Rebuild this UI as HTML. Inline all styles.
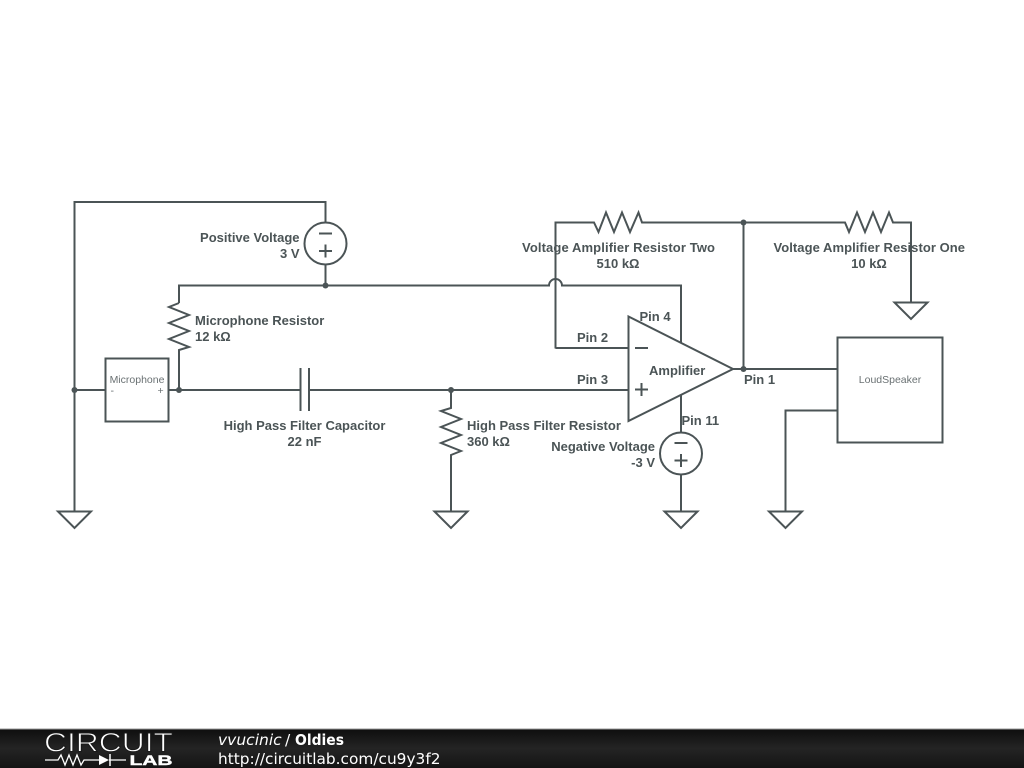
<!DOCTYPE html>
<html><head><meta charset="utf-8"><style>
html,body{margin:0;padding:0;background:#fff;width:1024px;height:768px;overflow:hidden}
svg{display:block}
.w{fill:none;stroke:#4b5456;stroke-width:2;stroke-linejoin:miter}
.t{font-family:"Liberation Sans",sans-serif;font-weight:bold;font-size:13px;fill:#4b5456}
.m{text-anchor:middle}.e{text-anchor:end}
.s{font-family:"Liberation Sans",sans-serif;font-size:10.5px;fill:#6a7173}
.f{font-family:"DejaVu Sans",sans-serif;font-size:15.5px;fill:#fff}
</style></head><body>
<svg width="1024" height="768" viewBox="0 0 1024 768" xmlns="http://www.w3.org/2000/svg">
<defs><linearGradient id="g" x1="0" y1="0" x2="0" y2="1"><stop offset="0" stop-color="#0e0e0e"/><stop offset=".5" stop-color="#242424"/><stop offset="1" stop-color="#141414"/></linearGradient></defs>
<rect width="1024" height="768" fill="#fff"/>
<g class="w">
<path d="M74.5 511V202H325.5V222"/>
<circle cx="325.5" cy="243.5" r="21"/>
<path d="M319 233.5H332M319 251H332M325.5 244.5V257.5"/>
<path d="M325.5 265V285"/>
<path d="M179 303V285.5H549A6.5 6.5 0 0 1 562 285.5H681V343"/>
<path d="M179 303L169 307L189 315L169 323L189 331L169 339L189 347L179 350V390"/>
<path d="M74.5 390H105.5"/>
<rect x="105.5" y="358.5" width="63" height="63"/>
<path d="M168.5 390H300M309 390H628"/>
<path d="M300.5 368V411M309 368V411"/>
<path d="M451 390V408L441 411L461 419L441 427L461 435L441 443L461 451L451 455V511"/>
<path d="M555.5 348.5V222.5H594L598.500 232L606 212.500L614 232L622 212.500L630 232L638.500 212.500L642 222.500H845L849 232L857 212.500L865 232L873 212.500L881 232L889 212.500L893 222.500H911V302"/>
<path d="M555.5 348H628"/>
<path d="M628.5 316.5L733 369L628.5 421Z"/>
<path d="M635 348H648M635 389.5H648M641.5 383V396"/>
<path d="M743.5 222.5V369M733 369H837"/>
<rect x="837.5" y="337.5" width="105" height="105"/>
<path d="M837 410.5H785.5V511"/>
<path d="M681 395V432"/>
<circle cx="681" cy="453.5" r="21"/>
<path d="M674.500 443H687.500M674.500 460.500H687.500M681 454V467"/>
<path d="M681 475V511"/>
<path d="M58 511.500H91L74.500 528Z"/>
<path d="M434.500 511.500H467.500L451 528Z"/>
<path d="M664.500 511.500H697.500L681 528Z"/>
<path d="M769 511.500H802L785.500 528Z"/>
<path d="M894.500 302.500H927.500L911 319Z"/>
</g>
<g fill="#4b5456">
<circle cx="74.500" cy="390" r="3"/><circle cx="179" cy="390" r="3"/><circle cx="325.500" cy="285.500" r="3"/>
<circle cx="451" cy="390" r="3"/><circle cx="743.500" cy="222.500" r="3"/><circle cx="743.500" cy="369" r="3"/>
</g>
<text class="t e" x="299.500" y="242">Positive Voltage</text>
<text class="t e" x="299.500" y="258">3 V</text>
<text class="t" x="195" y="325">Microphone Resistor</text>
<text class="t" x="195" y="341">12 kΩ</text>
<text class="t m" x="304.500" y="430">High Pass Filter Capacitor</text>
<text class="t m" x="304.500" y="446">22 nF</text>
<text class="t" x="467" y="430">High Pass Filter Resistor</text>
<text class="t" x="467" y="446">360 kΩ</text>
<text class="t" x="522" y="252" textLength="193" lengthAdjust="spacing">Voltage Amplifier Resistor Two</text>
<text class="t m" x="618" y="268">510 kΩ</text>
<text class="t" x="773.500" y="252" textLength="191.500" lengthAdjust="spacing">Voltage Amplifier Resistor One</text>
<text class="t m" x="869" y="268">10 kΩ</text>
<text class="t" x="639.500" y="321">Pin 4</text>
<text class="t" x="577" y="342">Pin 2</text>
<text class="t" x="577" y="384">Pin 3</text>
<text class="t" x="744" y="384">Pin 1</text>
<text class="t" x="681.500" y="425">Pin 11</text>
<text class="t" x="649" y="375">Amplifier</text>
<text class="t e" x="655" y="451">Negative Voltage</text>
<text class="t e" x="655" y="467">-3 V</text>
<text class="s m" x="137" y="383">Microphone</text>
<text class="s" x="110.500" y="394">-</text>
<text class="s" x="157.500" y="394">+</text>
<text class="s m" x="890" y="383">LoudSpeaker</text>
<rect x="0" y="729" width="1024" height="39" fill="url(#g)"/>
<rect x="0" y="728.500" width="1024" height="1" fill="#999"/>
<text x="44" y="751.500" textLength="129" lengthAdjust="spacingAndGlyphs" font-family="Liberation Sans,sans-serif" font-size="26.500" fill="#fff" stroke="#1a1a1a" stroke-width=".9" paint-order="fill">CIRCUIT</text>
<path d="M45 760H58L61 755L65 765L69 755L73 765L77 755L81 765L84 760H99M109 760H126" fill="none" stroke="#fff" stroke-width="1.300"/>
<path d="M99 755L109 760L99 765Z" fill="#fff"/><path d="M110 754V766" stroke="#fff" stroke-width="1.500"/>
<text x="129.500" y="765" textLength="43" lengthAdjust="spacingAndGlyphs" font-family="Liberation Sans,sans-serif" font-weight="bold" font-size="14" fill="#fff" stroke="#fff" stroke-width=".4">LAB</text>
<text class="f" x="218" y="745" font-style="italic">vvucinic</text>
<text class="f" x="285" y="745">/</text>
<text class="f" x="295" y="745" font-weight="bold" textLength="49" lengthAdjust="spacingAndGlyphs">Oldies</text>
<text class="f" x="218" y="764" textLength="222.500" lengthAdjust="spacingAndGlyphs">http://circuitlab.com/cu9y3f2</text>
</svg>
</body></html>
